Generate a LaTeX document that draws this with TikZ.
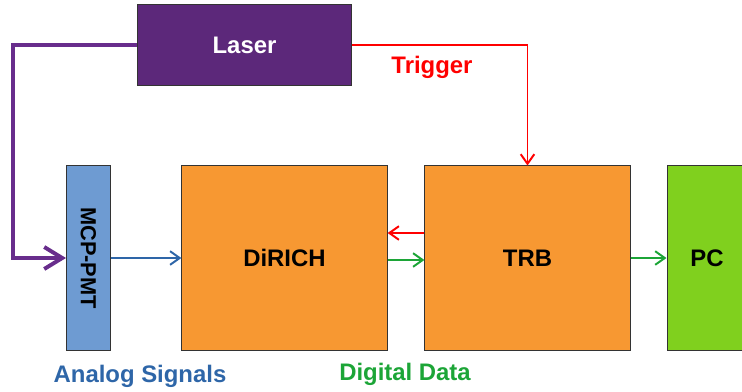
\documentclass[tikz,border=0pt]{standalone}
\usepackage{fontspec}
\setmainfont{Liberation Sans}
\usetikzlibrary{arrows.meta}

\definecolor{laserpurple}{RGB}{92,40,122}
\definecolor{fiberpurple}{RGB}{104,45,140}
\definecolor{pmtblue}{RGB}{110,155,210}
\definecolor{analogblue}{RGB}{46,102,168}
\definecolor{boardorange}{RGB}{247,152,50}
\definecolor{datagreen}{RGB}{28,165,55}
\definecolor{pcgreen}{RGB}{128,208,30}

\begin{document}
\begin{tikzpicture}[x=0.025cm, y=-0.025cm,
    font=\fontsize{17}{20}\selectfont\bfseries,
    block/.style={draw=black!80, line width=0.7pt, inner sep=0pt, minimum height=4.6cm},
    signal/.style={line width=1.4pt, -{Straight Barb[length=2.4mm,width=3.4mm]}}]
    \useasboundingbox (0,0) rectangle (742,391);

    \node[block, fill=laserpurple, text=white, minimum width=5.33cm, minimum height=2.03cm] (laser) at (244.5,45) {Laser};
    \node[block, fill=pmtblue, minimum width=1.1cm] (pmt) at (88.5,258) {\rotatebox{-90}{\fontsize{15.5}{18}\selectfont MCP-PMT}};
    \node[block, fill=boardorange, minimum width=5.13cm] (dirich) at (284.5,258) {DiRICH};
    \node[block, fill=boardorange, minimum width=5.13cm] (trb) at (527.5,258) {TRB};
    \node[block, fill=pcgreen, minimum width=2.0cm] (pc) at (707,258) {PC};

    \coordinate (bend) at (13,45);

    \draw[fiberpurple, line width=2.8pt, -{Straight Barb[length=4.5mm,width=5.5mm]}] (laser.west) -- (bend) |- (pmt.west);
    \draw[red, signal] (laser.east) -| (trb.north);
    \draw[analogblue, signal] (pmt.east) -- (dirich.west);
    \draw[red, signal] ([yshift=0.625cm]trb.west) -- ([yshift=0.625cm]dirich.east);
    \draw[datagreen, signal] ([yshift=-0.05cm]dirich.east) -- ([yshift=-0.05cm]trb.west);
    \draw[datagreen, signal] (trb.east) -- (pc.west);

    \node[red] (trigger) at (432,67) {Trigger};
    \node[analogblue] (analog) at (140,376) {Analog Signals};
    \node[datagreen] (digital) at (405,374) {Digital Data};
\end{tikzpicture}
\end{document}
